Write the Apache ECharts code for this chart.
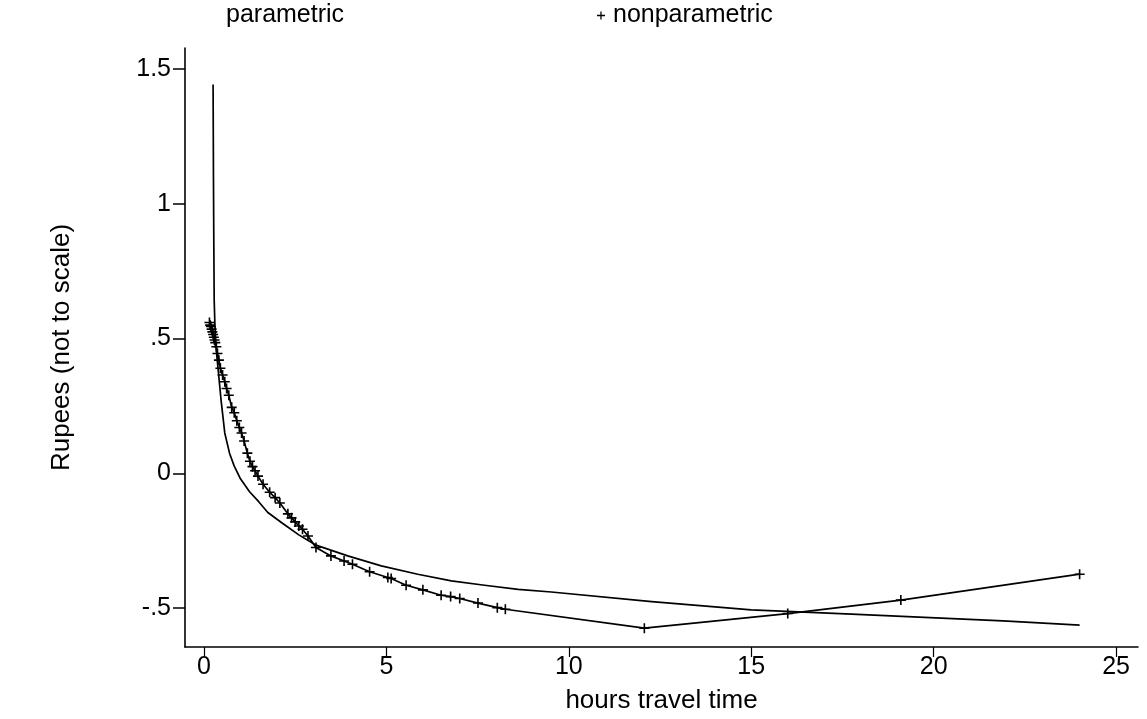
<!DOCTYPE html>
<html>
<head>
<meta charset="utf-8">
<script src="https://cdn.jsdelivr.net/npm/echarts@6/dist/echarts.min.js"></script>
<style>
html,body{margin:0;padding:0;background:#fff;}
#chart{width:1147px;height:719px;}
</style>
</head>
<body>
<div id="chart"></div>
<script>
// ---- data ----
const paramX = [0.25,0.26,0.27,0.28,0.30,0.33,0.38,0.47,0.57,0.70,0.83,1.0,1.25,1.5,1.75,2.15,2.6,3.05,3.94,4.86,5.86,6.78,7.69,8.61,9.52,12.27,15.0,17.75,21.9,24.0];
const paramY = [1.443,1.10,0.85,0.644,0.55,0.47,0.397,0.27,0.15,0.075,0.027,-0.02,-0.068,-0.105,-0.145,-0.185,-0.228,-0.265,-0.306,-0.343,-0.374,-0.399,-0.415,-0.430,-0.440,-0.476,-0.506,-0.522,-0.547,-0.563];

const nonparamX = [0.15,0.17,0.19,0.21,0.23,0.25,0.27,0.29,0.31,0.34,0.37,0.41,0.45,0.51,0.57,0.62,0.68,0.76,0.83,0.90,0.97,1.03,1.10,1.19,1.26,1.33,1.40,1.48,1.62,1.80,1.95,2.08,2.30,2.40,2.50,2.60,2.70,2.85,3.07,3.48,3.84,4.07,4.54,5.04,5.13,5.54,6.00,6.50,6.76,7.01,7.51,8.04,8.26,12.07,16.0,19.1,24.0];
const nonparamY = [0.56,0.55,0.545,0.535,0.525,0.515,0.505,0.495,0.485,0.47,0.445,0.42,0.39,0.365,0.34,0.315,0.29,0.245,0.225,0.195,0.17,0.15,0.12,0.075,0.045,0.025,0.01,-0.01,-0.04,-0.07,-0.09,-0.11,-0.15,-0.165,-0.18,-0.195,-0.207,-0.232,-0.275,-0.306,-0.325,-0.337,-0.365,-0.386,-0.39,-0.415,-0.432,-0.452,-0.457,-0.464,-0.481,-0.498,-0.504,-0.574,-0.52,-0.47,-0.374];

const xTicks = [0,5,10,15,20,25];
const yTicks = [-0.5,0,0.5,1,1.5];
const seriesNames = ['parametric','nonparametric'];
const axisTitles = {x:'hours travel time', y:'Rupees (not to scale)'};

// ---- chart ----
const zip = (xs, ys) => xs.map((x, i) => [x, ys[i]]);
const plus = 'path://M4.2,0H5.8V4.2H10V5.8H5.8V10H4.2V5.8H0V4.2H4.2Z';
const font = 'Liberation Sans, Arial, Helvetica, sans-serif';
const fmtY = v => v === 0 ? '0' : (v < 0 ? '-' : '') + String(Math.abs(v)).replace(/^0(?=\.)/, '');

const chart = echarts.init(document.getElementById('chart'), null, {renderer:'canvas'});
chart.setOption({
  animation:false,
  backgroundColor:'#fff',
  textStyle:{fontFamily:font, color:'#000'},
  legend:[
    {data:[{name:seriesNames[0], icon:'rect', itemStyle:{color:'rgba(0,0,0,0)', opacity:0}, lineStyle:{opacity:0}}],
     left:208, top:-2, itemWidth:8, itemHeight:8, itemGap:5,
     textStyle:{fontSize:25, color:'#000', fontFamily:font}, selectedMode:false},
    {data:[{name:seriesNames[1], icon:plus}], left:592, top:-2, itemWidth:8, itemHeight:8, itemGap:7,
     textStyle:{fontSize:25, color:'#000', fontFamily:font, padding:[0,0,0,3]}, itemStyle:{color:'#000'}, selectedMode:false}
  ],
  grid:{left:185, right:9, top:48, bottom:71},
  xAxis:{
    type:'value', min:-0.52, max:25.6,
    name:axisTitles.x, nameLocation:'middle', nameGap:41,
    nameTextStyle:{fontSize:26, color:'#000', fontFamily:font},
    axisLine:{show:true, onZero:false, lineStyle:{color:'#000', width:1.6}},
    axisTick:{show:true, customValues:xTicks, length:10, lineStyle:{color:'#000', width:1.2}},
    axisLabel:{customValues:xTicks, fontSize:25, color:'#000', margin:8, fontFamily:font},
    splitLine:{show:false}
  },
  yAxis:{
    type:'value', min:-0.644, max:1.578,
    name:axisTitles.y, nameLocation:'middle', nameGap:110, nameRotate:90,
    nameTextStyle:{fontSize:26, color:'#000', fontFamily:font},
    axisLine:{show:true, onZero:false, lineStyle:{color:'#000', width:1.6}},
    axisTick:{show:true, customValues:yTicks, length:12, lineStyle:{color:'#000', width:1.5}},
    axisLabel:{customValues:yTicks, fontSize:25, color:'#000', margin:14, formatter:fmtY, fontFamily:font},
    splitLine:{show:false}
  },
  series:[
    {name:seriesNames[0], type:'line', data:zip(paramX, paramY), showSymbol:false, symbol:'none',
     lineStyle:{color:'#000', width:1.7, join:'round'}, itemStyle:{color:'#000'}},
    {name:seriesNames[1], type:'line', data:zip(nonparamX, nonparamY), symbol:plus, symbolSize:10, showSymbol:true,
     lineStyle:{color:'#000', width:1.7}, itemStyle:{color:'#000'}}
  ]
});
</script>
</body>
</html>
